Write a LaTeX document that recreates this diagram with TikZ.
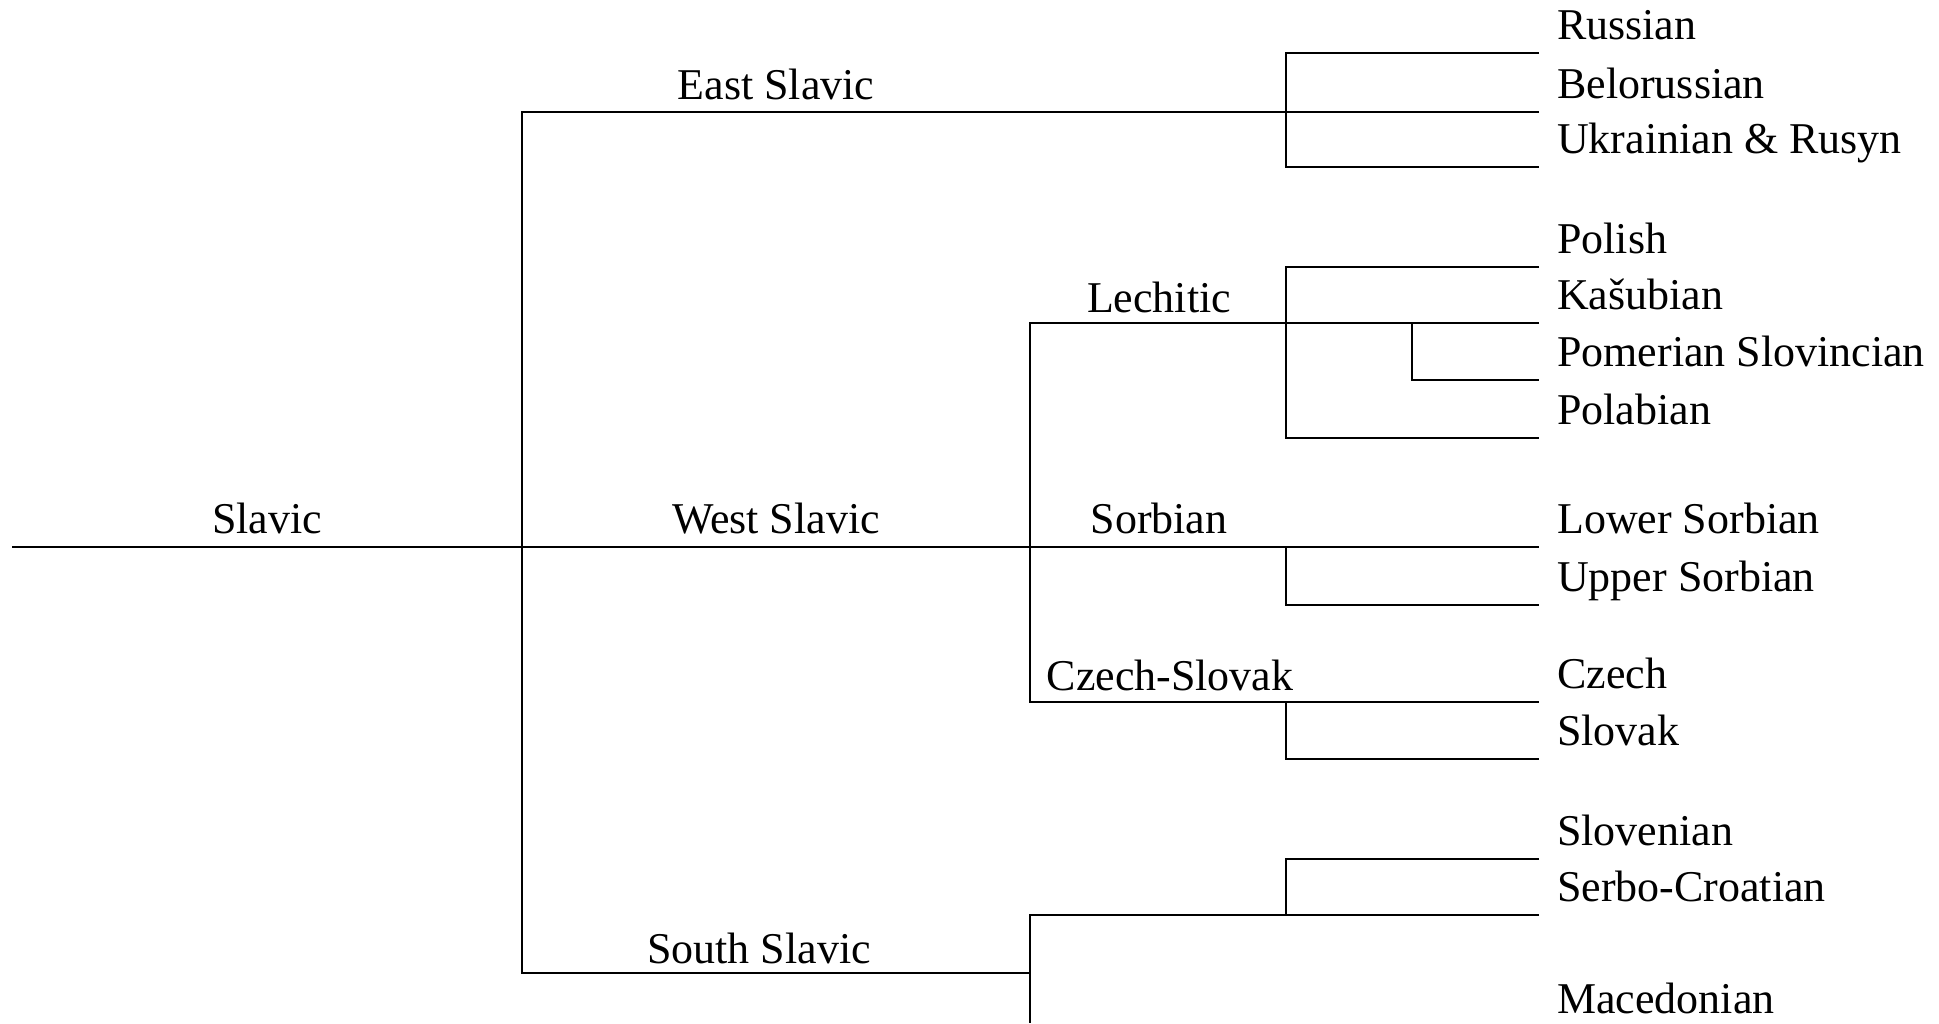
\documentclass[tikz,border=0pt]{standalone}
\usepackage{fontspec}
\setmainfont{Liberation Serif}

\begin{document}
\begin{tikzpicture}[x=0.01cm,y=-0.01cm,line width=0.7pt,
    font=\fontsize{12.5}{15}\selectfont,
    grp/.style={anchor=base,inner sep=0pt},
    lang/.style={anchor=south west,inner xsep=0.17cm,inner ysep=0.12cm,text depth=0pt}]
  \useasboundingbox (0,0) rectangle (1939,1023);
  \clip (0,0) rectangle (1939,1023);

  % branch points
  \coordinate (root) at (12,547);
  \coordinate (slv) at (522,547);
  \coordinate (south) at (1030,973);
  \coordinate (wsplit) at (1030,547);
  \coordinate (bottom) at (1030,1023);
  \coordinate (es) at (1286,112);
  \coordinate (lsplit) at (1286,323);
  \coordinate (psplit) at (1412,323);
  \coordinate (ssplit) at (1286,547);
  \coordinate (csplit) at (1286,702);
  \coordinate (scsplit) at (1286,915);

  % languages
  \node[lang] (ru) at (1539,53) {Russian};
  \node[lang] (by) at (1539,112) {Belorussian};
  \node[lang] (uk) at (1539,167) {Ukrainian \& Rusyn};
  \node[lang] (po) at (1539,267) {Polish};
  \node[lang] (ka) at (1539,323) {Kašubian};
  \node[lang] (ps) at (1539,380) {Pomerian Slovincian};
  \node[lang] (pb) at (1539,438) {Polabian};
  \node[lang] (ls) at (1539,547) {Lower Sorbian};
  \node[lang] (us) at (1539,605) {Upper Sorbian};
  \node[lang] (cz) at (1539,702) {Czech};
  \node[lang] (sk) at (1539,759) {Slovak};
  \node[lang] (sl) at (1539,859) {Slovenian};
  \node[lang] (sc) at (1539,915) {Serbo-Croatian};
  \node[lang] (mk) at (1539,1027) {Macedonian};

  % groups
  \node[grp] (slavic) at (267,533) {Slavic};
  \node[grp] (eastsl) at (776,99) {East Slavic};
  \node[grp] (westsl) at (776,533) {West Slavic};
  \node[grp] (southsl) at (759,963) {South Slavic};
  \node[grp] (lechitic) at (1159,312) {Lechitic};
  \node[grp] (sorbian) at (1159,533) {Sorbian};
  \node[grp] (czechsl) at (1170,690) {Czech-Slovak};

  % first level
  \draw (root) -- (slv);
  \draw (by.south west) -| (slv) |- (south);
  \draw (slv) -- (ls.south west);
  \draw (ru.south west) -| (es) |- (uk.south west);

  % west slavic
  \draw (ka.south west) -| (wsplit) |- (cz.south west);
  \draw (po.south west) -| (lsplit) |- (pb.south west);
  \draw (psplit) |- (ps.south west);
  \draw (ssplit) |- (us.south west);
  \draw (csplit) |- (sk.south west);

  % south slavic
  \draw (sc.south west) -| (bottom);
  \draw (sl.south west) -| (scsplit);
\end{tikzpicture}
\end{document}
